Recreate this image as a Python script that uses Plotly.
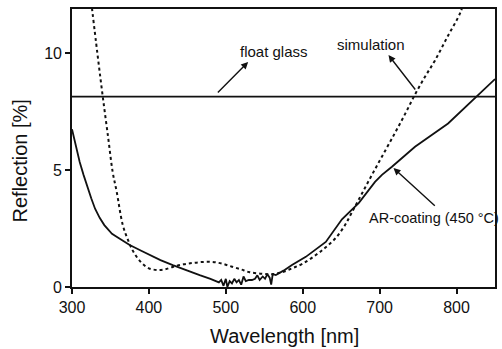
import plotly.graph_objects as go

# AR-coating (450 °C) measured reflection
ar_wl = [300, 305, 310, 315, 320, 325, 330, 336, 342, 347, 352, 358, 366, 375, 390, 401, 415, 431,
         448, 466, 480, 491, 494, 497, 500, 502, 505, 508, 511, 514, 517, 520, 523, 526, 530,
         534, 538, 541, 544, 548, 551, 554, 557, 559, 561, 565, 575, 586, 604, 630, 651, 673,
         694, 703, 716, 746, 789, 824, 850]
ar_r = [6.75, 6.0, 5.35, 4.8, 4.25, 3.8, 3.35, 2.96, 2.65, 2.45, 2.28, 2.15, 1.97, 1.8, 1.55, 1.37,
        1.15, 0.94, 0.72, 0.51, 0.35, 0.2, 0.3, 0.05, 0.35, 0.0, 0.25, 0.15, 0.35, 0.2, 0.3, 0.1,
        0.45, 0.25, 0.3, 0.3, 0.35, 0.5, 0.3, 0.45, 0.35, 0.55, 0.4, 0.1, 0.55, 0.51, 0.7, 0.94,
        1.29, 1.93, 2.9, 3.6, 4.5, 4.8, 5.15, 6.0, 7.0, 8.1, 8.9]

# simulation (dotted)
sim_wl = [325, 333, 340, 347, 353, 358, 366, 373, 380, 390, 400, 410, 420, 431, 445, 457,
          470, 483, 495, 508, 520, 530, 545, 560, 572, 586, 600, 617, 630, 643, 655, 664,
          677, 690, 705, 720, 733, 746, 759, 772, 788, 805, 810]
sim_r = [12.2, 10.0, 8.15, 6.4, 4.9, 4.1, 2.66, 2.0, 1.5, 1.05, 0.8, 0.73, 0.75, 0.86, 0.97, 1.03,
         1.07, 1.07, 1.0, 0.87, 0.75, 0.64, 0.57, 0.55, 0.62, 0.8, 1.0, 1.37, 1.7, 2.1, 2.65, 3.2,
         4.0, 4.8, 5.7, 6.6, 7.4, 8.24, 9.0, 9.7, 10.7, 11.75, 12.3]

# float glass (constant)
glass_wl = [300, 850]
glass_r = [8.15, 8.15]

x_ticks = [300, 400, 500, 600, 700, 800]
y_ticks = [0, 5, 10]

FONT = "Liberation Sans, Arial, Helvetica, sans-serif"

fig = go.Figure()
fig.add_trace(go.Scatter(x=glass_wl, y=glass_r, mode="lines",
                         line=dict(color="#111", width=1.6), showlegend=False))
fig.add_trace(go.Scatter(x=sim_wl, y=sim_r, mode="lines",
                         line=dict(color="#111", width=2, dash="dot", shape="spline"),
                         showlegend=False))
fig.add_trace(go.Scatter(x=ar_wl, y=ar_r, mode="lines",
                         line=dict(color="#111", width=1.8), showlegend=False))

# labels
fig.add_annotation(x=563, y=10.1, text="float glass", showarrow=False,
                   font=dict(size=15, color="#111", family=FONT))
fig.add_annotation(x=689, y=10.36, text="simulation", showarrow=False,
                   font=dict(size=15, color="#111", family=FONT))
fig.add_annotation(x=683, y=2.95, text="AR-coating (450 °C)", showarrow=False,
                   xanchor="left", font=dict(size=14.5, color="#111", family=FONT))

# arrows
for hx, hy, tx, ty in [(529, 9.63, 487.7, 8.26), (711.5, 9.93, 747.8, 8.39), (718, 5.09, 773.7, 3.42)]:
    fig.add_annotation(x=hx, y=hy, ax=tx, ay=ty, axref="x", ayref="y", xref="x", yref="y",
                       text="", showarrow=True, arrowhead=2, arrowsize=1, arrowwidth=1.4,
                       arrowcolor="#111")

# axis titles
fig.add_annotation(xref="paper", yref="paper", x=0.5035, y=-0.176, xanchor="center",
                   yanchor="middle", text="Wavelength [nm]", showarrow=False,
                   font=dict(size=20, color="#111", family=FONT))
fig.add_annotation(xref="paper", yref="paper", x=-0.122, y=0.453, xanchor="center",
                   yanchor="middle", text="Reflection [%]", showarrow=False, textangle=-90,
                   font=dict(size=20, color="#111", family=FONT))

fig.update_xaxes(range=[300, 850], tickvals=x_ticks, ticks="outside", ticklen=5, tickwidth=1.5,
                 tickcolor="#111", showline=True, linecolor="#111", linewidth=1.6, mirror=True,
                 showgrid=False, zeroline=False, tickfont=dict(size=16, color="#111", family=FONT))
fig.update_yaxes(range=[0, 11.9], tickvals=y_ticks, ticks="outside", ticklen=5, tickwidth=1.5,
                 tickcolor="#111", showline=True, linecolor="#111", linewidth=1.6, mirror=True,
                 showgrid=False, zeroline=False, tickfont=dict(size=16, color="#111", family=FONT))

fig.update_layout(width=502, height=349, margin=dict(l=72, r=5, t=9, b=62),
                  plot_bgcolor="white", paper_bgcolor="white", showlegend=False)

fig.write_html("out.html")
